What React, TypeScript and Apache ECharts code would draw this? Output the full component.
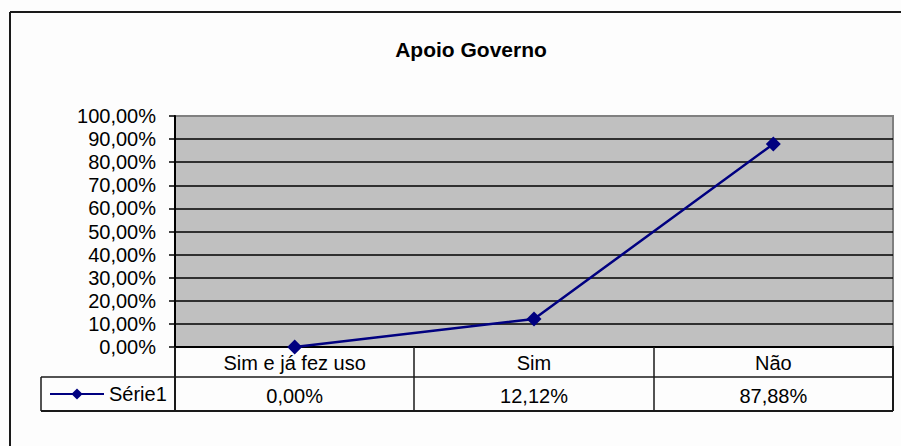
import React, { useEffect, useRef } from "react";
import * as echarts from "echarts";

const title = "Apoio Governo";
const categories = ["Sim e já fez uso", "Sim", "Não"];
const seriesName = "Série1";
const values = [0, 12.12, 87.88];
const yMin = 0;
const yMax = 100;
const yInterval = 10;

const fmt = (v: number) => v.toFixed(2).replace(".", ",") + "%";

const FONT = "'Liberation Sans', Arial, sans-serif";

export default function App() {
  const ref = useRef<HTMLDivElement>(null);
  useEffect(() => {
    if (!ref.current) return;
    const chart = echarts.init(ref.current, null, { renderer: "svg" });
    const splitColors = Array.from({ length: 11 }, (_, i) => (i === 10 ? "rgba(0,0,0,0)" : "#000"));
    const border = "#1a1a1a";
    const line = (x1: number, y1: number, x2: number, y2: number, w = 1.5) => ({
      type: "line",
      shape: { x1, y1, x2, y2 },
      style: { stroke: border, lineWidth: w },
      z: 100,
    });
    chart.setOption({
      animation: false,
      backgroundColor: "#fdfdfd",
      textStyle: { fontFamily: FONT },
      title: {
        text: title,
        left: 466,
        top: 34,
        textAlign: "center",
        textStyle: { fontSize: 21, fontWeight: "bold", color: "#000", fontFamily: FONT },
      },
      grid: {
        left: 175,
        top: 116,
        right: 8,
        bottom: 99,
        show: true,
        backgroundColor: "#c0c0c0",
        borderColor: "#808080",
        borderWidth: 2,
      },
      legend: {
        left: 49,
        top: 384,
        padding: 0,
        itemWidth: 54,
        itemHeight: 14,
        itemGap: 0,
        itemStyle: { borderWidth: 0 },
        textStyle: { fontSize: 20, color: "#000", fontFamily: FONT },
        data: [seriesName],
      },
      xAxis: [
        {
          type: "category",
          data: categories,
          boundaryGap: true,
          axisLine: { show: true, lineStyle: { color: "#000", width: 2 } },
          axisTick: { show: false },
          axisLabel: { fontSize: 20, color: "#000", margin: 6, lineHeight: 20, fontFamily: FONT },
          splitLine: { show: false },
        },
        {
          type: "category",
          data: values.map(fmt),
          position: "bottom",
          offset: 33,
          boundaryGap: true,
          axisLine: { show: false },
          axisTick: { show: false },
          axisLabel: { fontSize: 20, color: "#000", margin: 6, lineHeight: 20, fontFamily: FONT },
          splitLine: { show: false },
        },
      ],
      yAxis: {
        type: "value",
        min: yMin,
        max: yMax,
        interval: yInterval,
        axisLine: { show: true, lineStyle: { color: "#000", width: 2 } },
        axisTick: { show: true, length: 6, lineStyle: { color: "#000", width: 1.5 } },
        axisLabel: { fontSize: 20, color: "#000", margin: 19, formatter: (v: number) => fmt(v), fontFamily: FONT },
        splitLine: { show: true, lineStyle: { color: splitColors, width: 1.5 } },
      },
      series: [
        {
          name: seriesName,
          type: "line",
          data: values,
          xAxisIndex: 0,
          symbol: "diamond",
          symbolSize: 15,
          itemStyle: { color: "#000080" },
          lineStyle: { color: "#000080", width: 2.5 },
        },
      ],
      graphic: [
        line(10, 12, 901, 12, 2),
        line(10, 12, 10, 446, 2),
        line(41, 377, 893, 377),
        line(41, 411, 893, 411, 2),
        line(41, 377, 41, 411),
        line(175, 347, 175, 411, 2),
        line(414, 347, 414, 411),
        line(654, 347, 654, 411),
        line(893, 347, 893, 411, 2),
      ],
    });
    return () => chart.dispose();
  }, []);
  return <div ref={ref} style={{ width: 901, height: 446, position: "absolute", left: 0, top: 0 }} />;
}
